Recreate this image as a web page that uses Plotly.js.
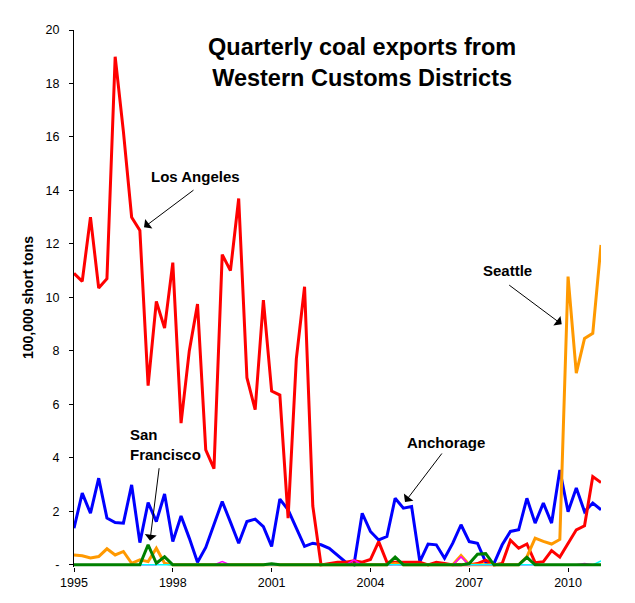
<!DOCTYPE html>
<html>
<head>
<meta charset="utf-8">
<script src="https://cdn.plot.ly/plotly-3.0.1.min.js"></script>
<style>
  html, body { margin: 0; padding: 0; background: #fff; }
  #chart { width: 635px; height: 603px; }
</style>
</head>
<body>
<div id="chart"></div>
<script>
  // Quarterly coal exports, 100,000 short tons, 1995 Q1 .. 2011 Q1.
  // Values.

  const YEARS = [1995, 1996, 1997, 1998, 1999, 2000, 2001, 2002, 2003,
    2004, 2005, 2006, 2007, 2008, 2009, 2010, 2011];
  const QUARTERS_SHOWN = 65;

  const LOS_ANGELES = [
    10.9, 10.6, 13.0, 10.35, 10.7, 19.0, 16.2, 13.0, 12.5, 6.7,
    9.85, 8.85, 11.3, 5.3, 8.0, 9.75, 4.3, 3.6, 11.6, 11.0,
    13.7, 7.0, 5.8, 9.9, 6.5, 6.35, 1.75, 7.7, 10.4, 2.2,
    0, 0.05, 0.1, 0.1, 0.15, 0.1, 0.2, 0.87, 0.1, 0.1,
    0.1, 0.1, 0.1, 0, 0.1, 0.05, 0, 0, 0, 0.05,
    0.18, 0, 0.05, 0.92, 0.62, 0.78, 0.08, 0.12, 0.53, 0.29,
    0.81, 1.31, 1.46, 3.3, 3.08
  ];
  const ANCHORAGE = [
    1.37, 2.68, 1.93, 3.24, 1.75, 1.58, 1.56, 2.99, 0.83, 2.33,
    1.62, 2.65, 0.87, 1.83, 1.0, 0.1, 0.65, 1.5, 2.37, 1.6,
    0.81, 1.62, 1.71, 1.43, 0.69, 2.46, 2.06, 1.37, 0.69, 0.81,
    0.75, 0.62, 0.37, 0.1, 0, 1.93, 1.25, 0.93, 1.06, 2.49,
    2.12, 2.18, 0.12, 0.78, 0.75, 0.25, 0.81, 1.5, 0.87, 0.81,
    0.1, 0.05, 0.75, 1.25, 1.31, 2.49, 1.56, 2.31, 1.56, 3.55,
    1.99, 2.87, 1.99, 2.31, 2.06
  ];
  const SEATTLE = [
    0.37, 0.34, 0.26, 0.31, 0.6, 0.37, 0.5, 0.06, 0.19, 0.12,
    0.62, 0.06, 0, 0, 0, 0, 0, 0, 0, 0,
    0, 0, 0, 0, 0, 0, 0, 0, 0, 0,
    0, 0, 0, 0, 0, 0, 0, 0, 0, 0.05,
    0, 0, 0, 0, 0, 0, 0, 0.35, 0, 0,
    0, 0, 0, 0, 0, 0.3, 1.0, 0.88, 0.78, 0.95,
    10.78, 7.17, 8.47, 8.66, 11.96
  ];
  const SAN_FRANCISCO = [
    0, 0, 0, 0, 0, 0, 0, 0, 0, 0.75,
    0.06, 0.3, 0, 0, 0, 0, 0, 0, 0, 0,
    0, 0, 0, 0, 0.04, 0, 0, 0, 0, 0,
    0, 0, 0, 0, 0, 0, 0, 0, 0, 0.29,
    0, 0, 0, 0, 0, 0, 0, 0, 0.05, 0.4,
    0.42, 0, 0, 0, 0, 0.28, 0, 0, 0, 0,
    0, 0, 0, 0, 0
  ];
  // two small districts that barely leave the axis
  const OTHER_A = [
    0, 0, 0, 0, 0, 0, 0, 0, 0, 0,
    0, 0.32, 0, 0, 0, 0, 0, 0, 0.12, 0,
    0, 0, 0, 0, 0, 0, 0, 0, 0, 0,
    0, 0, 0, 0, 0.19, 0, 0, 0, 0, 0,
    0, 0, 0, 0, 0, 0, 0, 0.3, 0, 0,
    0, 0, 0, 0, 0, 0, 0, 0, 0, 0,
    0, 0, 0.05, 0, 0
  ];
  const OTHER_B = [
    0, 0, 0, 0, 0, 0, 0, 0, 0, 0,
    0, 0, 0, 0, 0, 0, 0, 0, 0, 0,
    0, 0, 0, 0, 0, 0, 0, 0, 0, 0,
    0, 0, 0, 0, 0, 0, 0, 0, 0, 0,
    0, 0, 0, 0, 0, 0, 0, 0, 0, 0,
    0, 0, 0, 0, 0, 0, 0, 0, 0, 0,
    0, 0, 0, 0, 0.15
  ];

  const X_TICK_YEARS = ["1995", "1998", "2001", "2004", "2007", "2010"];
  const Y_TICK_VALUES = [0, 2, 4, 6, 8, 10, 12, 14, 16, 18, 20];
  const Y_TICK_LABELS = ["-", "2", "4", "6", "8", "10", "12", "14", "16", "18", "20"];

  (function () {
    "use strict";

    const W = 635;
    const H = 603;
    const M = { l: 74, r: 34, t: 30, b: 36 };
    const PW = W - M.l - M.r;
    const PH = H - M.t - M.b;
    const FONT = "Liberation Sans, Arial, Helvetica, sans-serif";

    // category labels, one per quarter
    const quarters = [];
    YEARS.forEach(function (y) {
      for (let q = 1; q <= 4; q++) {
        if (quarters.length < QUARTERS_SHOWN) {
          quarters.push(y + " Q" + q);
        }
      }
    });

    // pixel position on the page -> paper fraction, for the text labels
    function px(x) { return (x - M.l) / PW; }
    function py(y) { return (H - M.b - y) / PH; }

    function line(name, values, color, width) {
      return {
        x: quarters,
        y: values,
        name: name,
        type: "scatter",
        mode: "lines",
        line: { color: color, width: width },
        hovertemplate: "<b>" + name + "</b><br>%{x}: %{y}<extra></extra>",
      };
    }

    // draw order as in the picture: green sits on top along the axis
    const traces = [
      line("Anchorage", ANCHORAGE, "#0000ff", 3),
      line("Los Angeles", LOS_ANGELES, "#ff0000", 3),
      line("Seattle", SEATTLE, "#ff9900", 3),
      line("Other A", OTHER_A, "#ff00ff", 1.5),
      line("Other B", OTHER_B, "#00ffff", 1.5),
      line("San Francisco", SAN_FRANCISCO, "#008000", 3),
    ];

    function label(text, x, y, size, opts) {
      return Object.assign({
        text: text, xref: "paper", yref: "paper", x: px(x), y: py(y),
        xanchor: "center", yanchor: "middle", showarrow: false,
        font: { family: FONT, size: size, color: "#000" },
      }, opts || {});
    }

    function arrow(tipX, tipY, tailX, tailY) {
      return {
        text: "", xref: "paper", yref: "paper", x: px(tipX), y: py(tipY),
        ax: tailX - tipX, ay: tailY - tipY,
        showarrow: true, arrowhead: 1, arrowsize: 2, arrowwidth: 1,
        arrowcolor: "#000",
      };
    }

    const annotations = [
      label("<b>Quarterly coal exports from<br>Western Customs Districts</b>", 361.5, 63, 23.5),
      label("<b>100,000 short tons</b>", 28, 298, 14, { textangle: -90 }),
      label("<b>Los Angeles</b>", 195.5, 176.7, 15),
      label("<b>Seattle</b>", 507.5, 270.7, 15),
      label("<b>Anchorage</b>", 445.5, 442, 15),
      label("<b>San<br>Francisco</b>", 128, 444, 15, { xanchor: "left", align: "left" }),
      arrow(144, 227.3, 195, 189),
      arrow(561.7, 324.3, 507.7, 284),
      arrow(405, 502, 443, 452),
      arrow(150, 540.7, 159.3, 466.7),
    ];

    const layout = {
      width: W,
      height: H,
      margin: M,
      paper_bgcolor: "#fff",
      plot_bgcolor: "#fff",
      showlegend: false,
      font: { family: FONT, size: 12.5, color: "#000" },
      xaxis: {
        type: "category",
        range: [0, QUARTERS_SHOWN - 1],
        tickvals: X_TICK_YEARS.map(function (y) { return y + " Q1"; }),
        ticktext: X_TICK_YEARS,
        ticks: "outside",
        ticklen: 4,
        tickcolor: "#000",
        showgrid: false,
        showline: false,
        zeroline: false,
        tickfont: { family: FONT, size: 12.5, color: "#000" },
      },
      yaxis: {
        range: [-0.08, 20],
        tickvals: Y_TICK_VALUES,
        ticktext: Y_TICK_LABELS,
        ticks: "outside",
        ticklen: 4,
        tickcolor: "#000",
        ticklabelstandoff: 7,
        showgrid: false,
        showline: true,
        linecolor: "#000",
        linewidth: 1,
        // zero line stands in for the x axis, so lines at 0 are not clipped
        zeroline: true,
        zerolinecolor: "#000",
        zerolinewidth: 1,
        tickfont: { family: FONT, size: 12.5, color: "#000" },
      },
      annotations: annotations,
    };

    Plotly.newPlot("chart", traces, layout, { displayModeBar: false, responsive: false });
  })();
</script>
</body>
</html>
